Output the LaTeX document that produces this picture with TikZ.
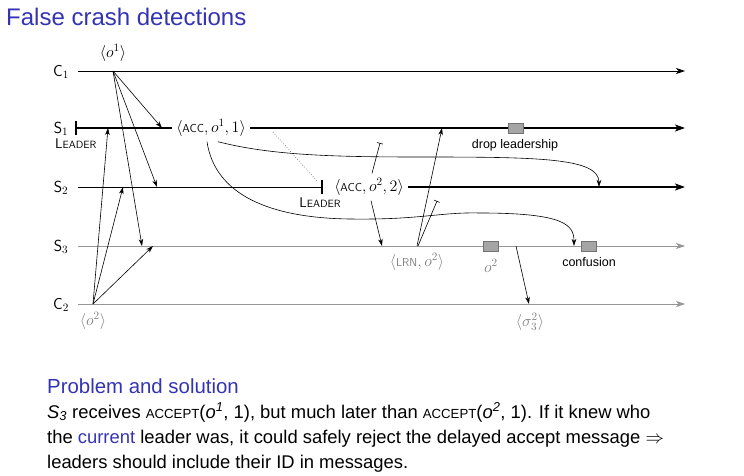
\RequirePackage{fix-cm}
\documentclass[tikz,border=0pt]{standalone}
\usepackage{fontspec}
\setmainfont{Liberation Sans}
\usetikzlibrary{arrows.meta}
\definecolor{titleblue}{RGB}{51,51,179}
\definecolor{txtgray}{RGB}{128,128,128}
\definecolor{linegray}{RGB}{150,150,150}
\definecolor{boxgray}{RGB}{165,165,165}
\newcommand{\dsize}{\fontsize{16}{18}\selectfont}
\newcommand{\scsize}{\fontsize{11.5}{13}\selectfont}
\newcommand{\ldrtext}{{\fontsize{14}{16}\selectfont L}{\fontsize{10.5}{12}\selectfont EADER}}
\newcommand{\bodysc}[1]{{\fontsize{13.2}{15}\selectfont #1}}
\begin{document}
\begin{tikzpicture}[x=1pt,y=-1pt,
  timeline/.style={line width=0.8pt,-{Stealth[length=9pt,width=6pt,inset=2.5pt]}},
  thickline/.style={line width=2.3pt},
  thickarrow/.style={line width=2.3pt,-{Stealth[length=10pt,width=7pt,inset=2.5pt]}},
  msg/.style={line width=0.6pt,-{Stealth[length=7pt,width=4.5pt,inset=2pt]}},
  blocked/.style={line width=0.6pt,-{Bar[width=6pt,line width=0.6pt]}},
  lbl/.style={font=\sffamily\dsize,inner sep=0pt},
  acclbl/.style={font=\sffamily\dsize,inner xsep=4pt,inner ysep=5pt},
  gbox/.style={draw=black!55,fill=boxgray,minimum width=15pt,minimum height=10pt,inner sep=0pt,line width=0.5pt},
  caption/.style={font=\fontsize{12.5}{14}\selectfont,inner sep=0pt},
  body/.style={font=\fontsize{18.4}{21}\selectfont,inner sep=0pt,anchor=base west}
]
\useasboundingbox (0,0) rectangle (744,476);

% title
\node[anchor=base west,inner sep=0pt,text=titleblue,font=\fontsize{24}{28}\selectfont] (title) at (6,26) {False crash detections};

% process labels
\node[lbl] (C1) at (61,72) {C$_1$};
\node[lbl] (S1) at (61,129) {S$_1$};
\node[lbl] (S2) at (61,188) {S$_2$};
\node[lbl] (S3) at (61,247) {S$_3$};
\node[lbl] (C2) at (61,305) {C$_2$};

% coordinates on timelines
\coordinate (c1s) at (78,71);   \coordinate (c1e) at (685,71);
\coordinate (s1s) at (76,128);  \coordinate (s1e) at (685,128);
\coordinate (s2s) at (78,187);  \coordinate (s2bar) at (322,187); \coordinate (s2e) at (685,187);
\coordinate (s3s) at (78,246);  \coordinate (s3e) at (685,246);
\coordinate (c2s) at (78,304);  \coordinate (c2e) at (685,304);

% labels on lines
\node[acclbl] (acc1) at (211,128) {$\langle\mbox{\scsize ACC}, o^1, 1\rangle$};
\node[acclbl] (acc2) at (369,187) {$\langle\mbox{\scsize ACC}, o^2, 2\rangle$};
\node[lbl,anchor=north west] (ldr1) at (55,139) {\ldrtext};
\node[lbl,anchor=north] (ldr2) at (320,198) {\ldrtext};

% timelines
\draw[timeline] (c1s) -- (c1e);
\draw[thickline] (s1s) -- (acc1.west);
\draw[line width=2.3pt] ([yshift=7pt]s1s) -- ([yshift=-7pt]s1s);
\draw[thickarrow] (acc1.east) -- (s1e);
\draw[line width=0.8pt] (s2s) -- (s2bar);
\draw[line width=2.3pt] ([yshift=7pt]s2bar) -- ([yshift=-7pt]s2bar);
\draw[thickarrow] (acc2.east) -- (s2e);
\draw[timeline,draw=linegray] (s3s) -- (s3e);
\draw[timeline,draw=linegray] (c2s) -- (c2e);

% client requests
\coordinate (o1src) at (113,71);
\node[lbl] (o1lbl) at (113,53) {$\langle o^1\rangle$};
\coordinate (o1s1) at (162,128);
\coordinate (o1s2) at (157,187);
\coordinate (o1s3) at (142,246);
\draw[msg] (o1src) -- (o1s1);
\draw[msg] (o1src) -- (o1s2);
\draw[msg] (o1src) -- (o1s3);

\coordinate (o2src) at (93,304);
\node[lbl,text=txtgray] (o2lbl) at (93,321) {$\langle o^2\rangle$};
\coordinate (o2s1) at (108,128);
\coordinate (o2s2) at (123,187);
\coordinate (o2s3) at (153,246);
\draw[msg] (o2src) -- (o2s1);
\draw[msg] (o2src) -- (o2s2);
\draw[msg] (o2src) -- (o2s3);

% dotted link
\coordinate (dotA) at (273,132);
\coordinate (dotB) at (317,181);
\draw[dotted,draw=black!70,line width=0.6pt] (dotA) -- (dotB);

% delayed accepts of S1
\coordinate (cur1end) at (599,187);
\coordinate (cur2end) at (574,246);
\draw[msg] ([xshift=7pt]acc1.south) .. controls (270,155) and (330,157) .. (420,157)
   .. controls (540,157) and (599,158) .. (cur1end);
\draw[msg] ([xshift=-4pt]acc1.south) .. controls (215,195) and (270,218) .. (350,219)
   .. controls (420,220) and (440,212) .. (480,213)
   .. controls (565,213) and (574,225) .. (cur2end);

% S2 accept messages
\coordinate (acc2s3) at (382,246);
\coordinate (acc2s1) at (380,143);
\draw[msg] ([xshift=2pt]acc2.south) -- (acc2s3);
\draw[blocked] ([xshift=3pt]acc2.north) -- (acc2s1);

% learn
\coordinate (lrnsrc) at (417,246);
\node[lbl,text=txtgray] (lrn) at (417,262) {$\langle\mbox{\scsize LRN}, o^2\rangle$};
\coordinate (lrns1) at (442,128);
\coordinate (lrns2) at (437,201);
\draw[msg] (lrnsrc) -- (lrns1);
\draw[blocked] ([xshift=1pt]lrnsrc) -- (lrns2);

% boxes
\node[gbox] (b1) at (516,128) {};
\node[caption,anchor=north] (dl) at (515,139) {drop leadership};
\node[gbox] (b2) at (491,246) {};
\node[lbl,text=txtgray] (o2b) at (491,266) {$o^2$};
\node[gbox] (b3) at (589,246) {};
\node[caption,anchor=north] (conf) at (589,257) {confusion};

% to C2
\coordinate (sigsrc) at (516,246);
\coordinate (sigdst) at (529,304);
\draw[msg] (sigsrc) -- (sigdst);
\node[lbl,text=txtgray] (siglbl) at (530,322) {$\langle\sigma_3^2\rangle$};

% text block
\node[body,text=titleblue,font=\fontsize{20.4}{23}\selectfont] (prob) at (47,393) {Problem and solution};
\node[body] (l1) at (47,418) {\textit{S}\textsubscript{\textit{3}} receives \bodysc{ACCEPT}(\textit{o}\textsuperscript{\textit{1}}, 1), but much later than \bodysc{ACCEPT}(\textit{o}\textsuperscript{\textit{2}}, 1). If it knew who};
\node[body] (l2) at (47,443) {the \textcolor{titleblue}{current} leader was, it could safely reject the delayed accept message $\Rightarrow$};
\node[body] (l3) at (47,468) {leaders should include their ID in messages.};
\end{tikzpicture}
\end{document}
